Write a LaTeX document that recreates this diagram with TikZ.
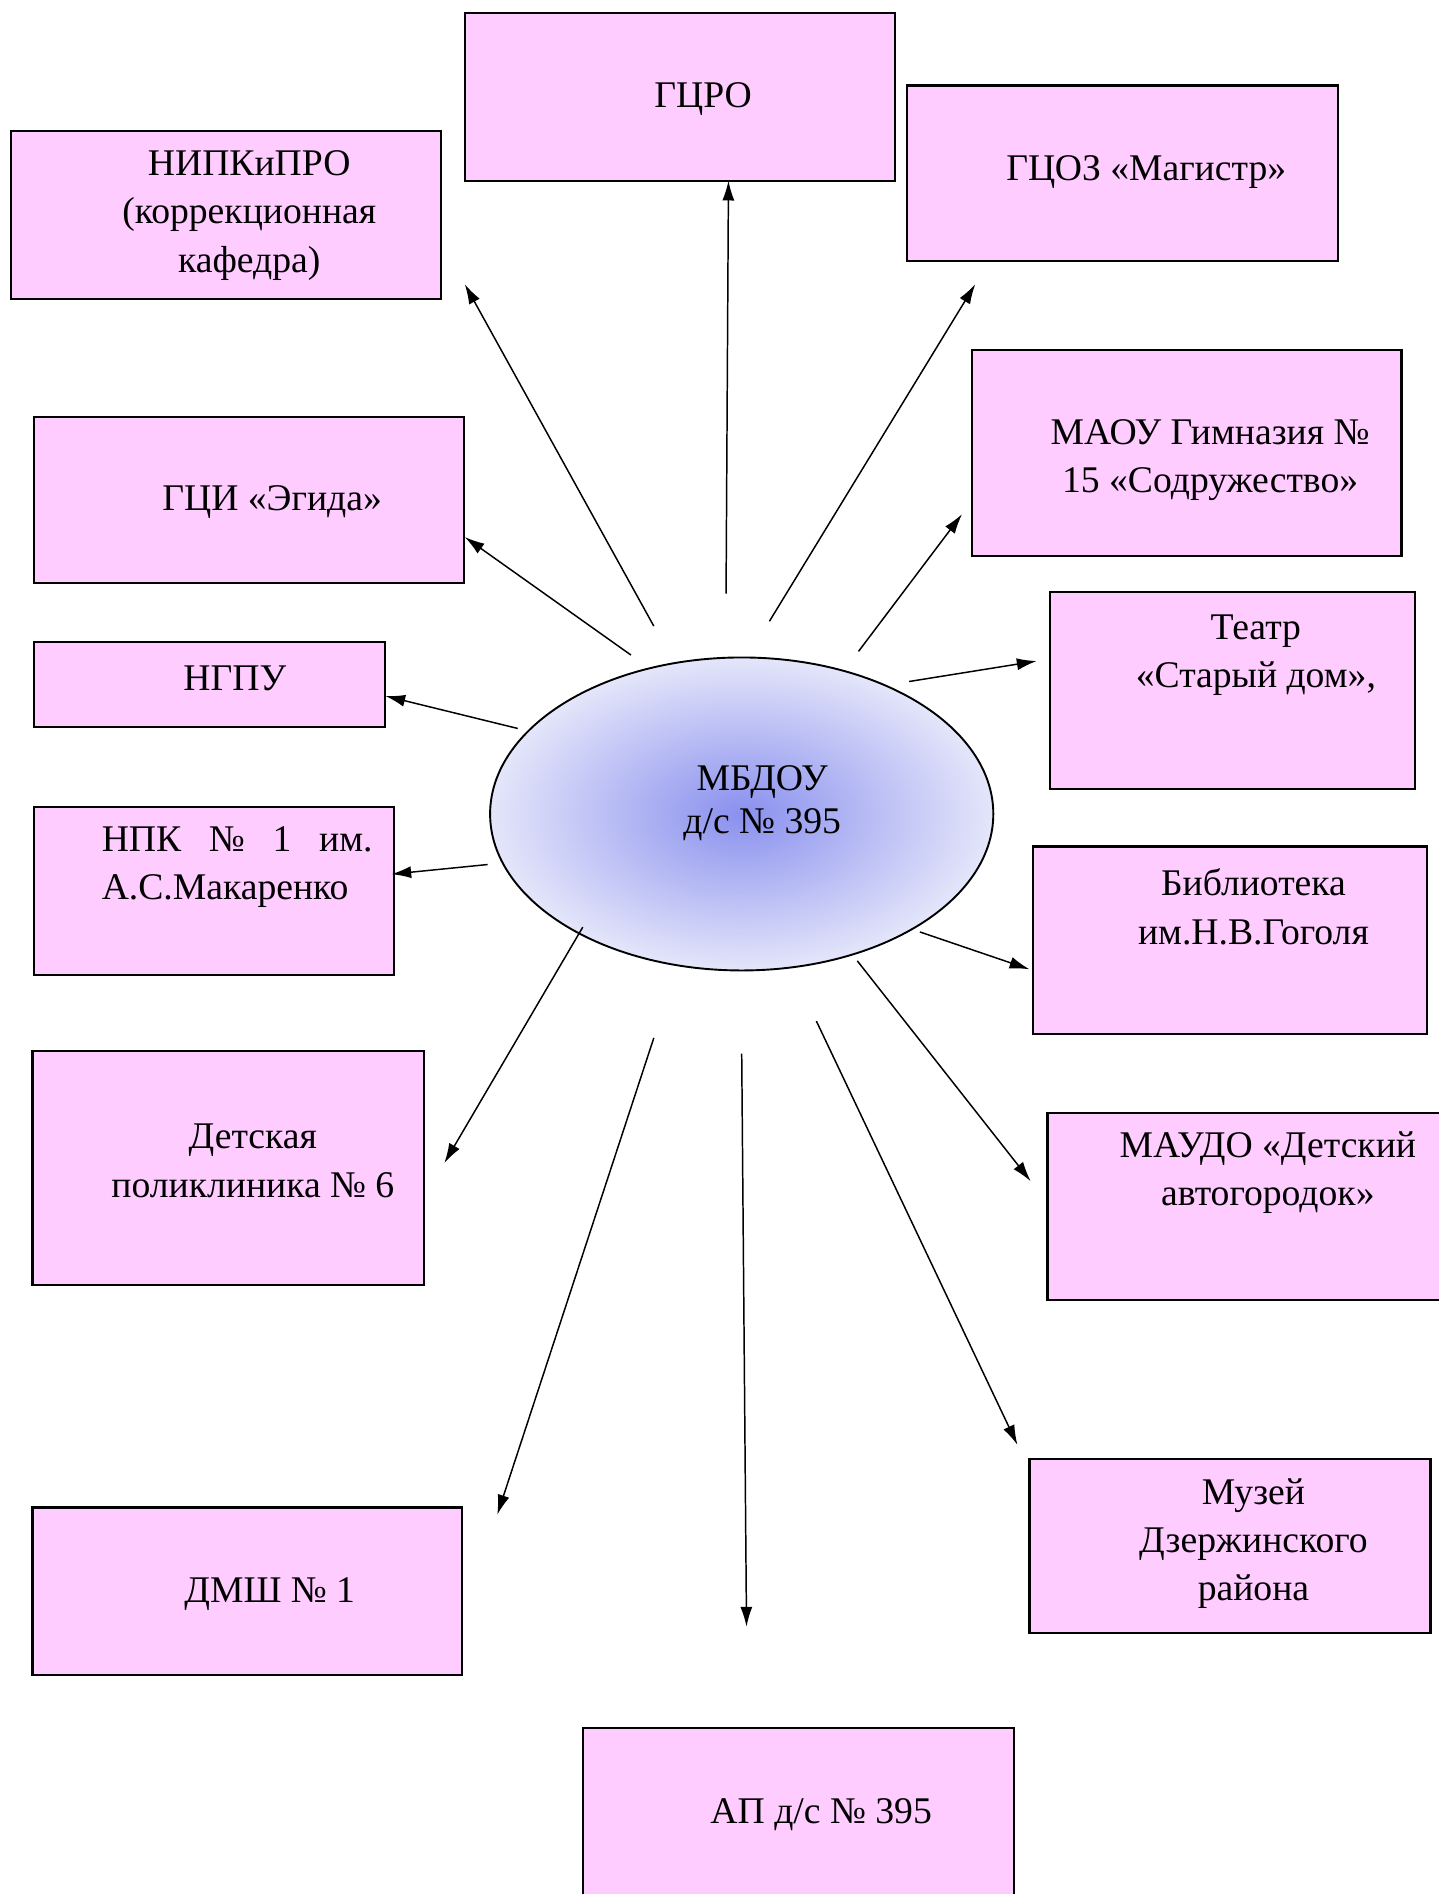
\documentclass[tikz,border=0pt]{standalone}
\usepackage{fontspec}
\setmainfont{Liberation Serif}
\usetikzlibrary{arrows.meta, fit, shapes.geometric}

\definecolor{boxpink}{RGB}{255,204,255}
\definecolor{ovalblue}{RGB}{138,144,238}
\definecolor{ovaledge}{RGB}{228,230,250}

\begin{document}
\begin{tikzpicture}[x=0.02cm, y=-0.02cm,
    orgbox/.style={draw, line width=1pt, fill=boxpink, inner sep=0pt},
    lbl/.style={font=\fontsize{17.8}{22.8}\selectfont, align=center, inner sep=0pt},
    link/.style={-{Latex[length=0.33cm,width=0.2cm]}, line width=0.7pt}]
    \useasboundingbox (0,0) rectangle (1195,1573);

    % МБДОУ
    \node[ellipse, draw, line width=0.9pt, minimum width=8.36cm, minimum height=5.2cm,
          inner color=ovalblue, outer color=ovaledge] (mbdou) at (616,676) {};
    \node[lbl, font=\fontsize{17.8}{20.5}\selectfont] (mbdoutxt) at (633,667) {МБДОУ\\д/с № 395};

    % ГЦРО
    \node[orgbox, fit={(386,11) (743,150)}] (gcro) {};
    \node[lbl] (gcrotxt) at (584,82) {ГЦРО};
    \coordinate (gcroS) at (603,493); \coordinate (gcroE) at (605,150);

    % НИПКиПРО
    \node[orgbox, fit={(9,109) (366,248)}] (nipkipro) {};
    \node[lbl] (nipkiprotxt) at (207,179) {НИПКиПРО\\(коррекционная\\кафедра)};
    \coordinate (nipkiproS) at (543,520); \coordinate (nipkiproE) at (386,236);

    % ГЦОЗ
    \node[orgbox, fit={(753,71) (1111,217)}] (gcoz) {};
    \node[lbl] (gcoztxt) at (952,143) {ГЦОЗ «Магистр»};
    \coordinate (gcozS) at (639,516); \coordinate (gcozE) at (810,236);

    % Гимназия
    \node[orgbox, fit={(807,291) (1164,462)}] (gimn) {};
    \node[lbl] (gimntxt) at (1005,382) {МАОУ Гимназия №\\15 «Содружество»};
    \coordinate (gimnS) at (713,541); \coordinate (gimnE) at (799,427);

    % Эгида
    \node[orgbox, fit={(28,346) (385,484)}] (egida) {};
    \node[lbl] (egidatxt) at (226,417) {ГЦИ «Эгида»};
    \coordinate (egidaS) at (524,544); \coordinate (egidaE) at (386,446);

    % Театр
    \node[orgbox, fit={(872,492) (1175,655)}] (teatr) {};
    \node[lbl] (teatrtxt) at (1043,544) {Театр\\«Старый дом»,};
    \coordinate (teatrS) at (755,566); \coordinate (teatrE) at (861,549);

    % НГПУ
    \node[orgbox, fit={(28,533) (320,604)}] (ngpu) {};
    \node[lbl] (ngputxt) at (195,563) {НГПУ};
    \coordinate (ngpuS) at (430,605); \coordinate (ngpuE) at (320,578);

    % НПК
    \node[orgbox, fit={(28,670) (327,810)}] (npk) {};
    \node[lbl, text width=4.5cm, align=left] (npktxt) at (197,720) {НПК\hfill№\hfill1\hfill им.\\А.С.Макаренко};
    \coordinate (npkS) at (405,718); \coordinate (npkE) at (325,726);

    % Библиотека
    \node[orgbox, fit={(858,703) (1185,859)}] (bibl) {};
    \node[lbl] (bibltxt) at (1041,753) {Библиотека\\им.Н.В.Гоголя};
    \coordinate (biblS) at (764,774); \coordinate (biblE) at (855,805);

    % Поликлиника
    \node[orgbox, fit={(27,873) (352,1067)}] (polikl) {};
    \node[lbl] (poliklxt) at (210,964) {Детская\\поликлиника № 6};
    \coordinate (poliklS) at (484,770); \coordinate (poliklE) at (369,966);

    % Автогородок
    \node[orgbox, fit={(870,924) (1205,1080)}] (avto) {};
    \node[lbl] (avtotxt) at (1053,974) {МАУДО «Детский\\автогородок»};
    \coordinate (avtoS) at (712,798); \coordinate (avtoE) at (856,981);

    % Музей
    \node[orgbox, fit={(855,1212) (1188,1356)}] (muzey) {};
    \node[lbl] (muzeytxt) at (1041,1282) {Музей\\Дзержинского\\района};
    \coordinate (muzeyS) at (678,848); \coordinate (muzeyE) at (845,1200);

    % ДМШ
    \node[orgbox, fit={(27,1252) (384,1391)}] (dmsh) {};
    \node[lbl] (dmshtxt) at (224,1324) {ДМШ № 1};
    \coordinate (dmshS) at (543,862); \coordinate (dmshE) at (413,1258);

    % АП
    \node[orgbox, fit={(484,1435) (842,1600)}] (ap) {};
    \node[lbl] (aptxt) at (682,1507) {АП д/с № 395};
    \coordinate (apS) at (616,875); \coordinate (apE) at (620,1351);

    % связи
    \draw[link] (gcroS) -- (gcroE);
    \draw[link] (nipkiproS) -- (nipkiproE);
    \draw[link] (gcozS) -- (gcozE);
    \draw[link] (gimnS) -- (gimnE);
    \draw[link] (egidaS) -- (egidaE);
    \draw[link] (teatrS) -- (teatrE);
    \draw[link] (ngpuS) -- (ngpuE);
    \draw[link] (npkS) -- (npkE);
    \draw[link] (biblS) -- (biblE);
    \draw[link] (poliklS) -- (poliklE);
    \draw[link] (avtoS) -- (avtoE);
    \draw[link] (muzeyS) -- (muzeyE);
    \draw[link] (dmshS) -- (dmshE);
    \draw[link] (apS) -- (apE);
\end{tikzpicture}
\end{document}
